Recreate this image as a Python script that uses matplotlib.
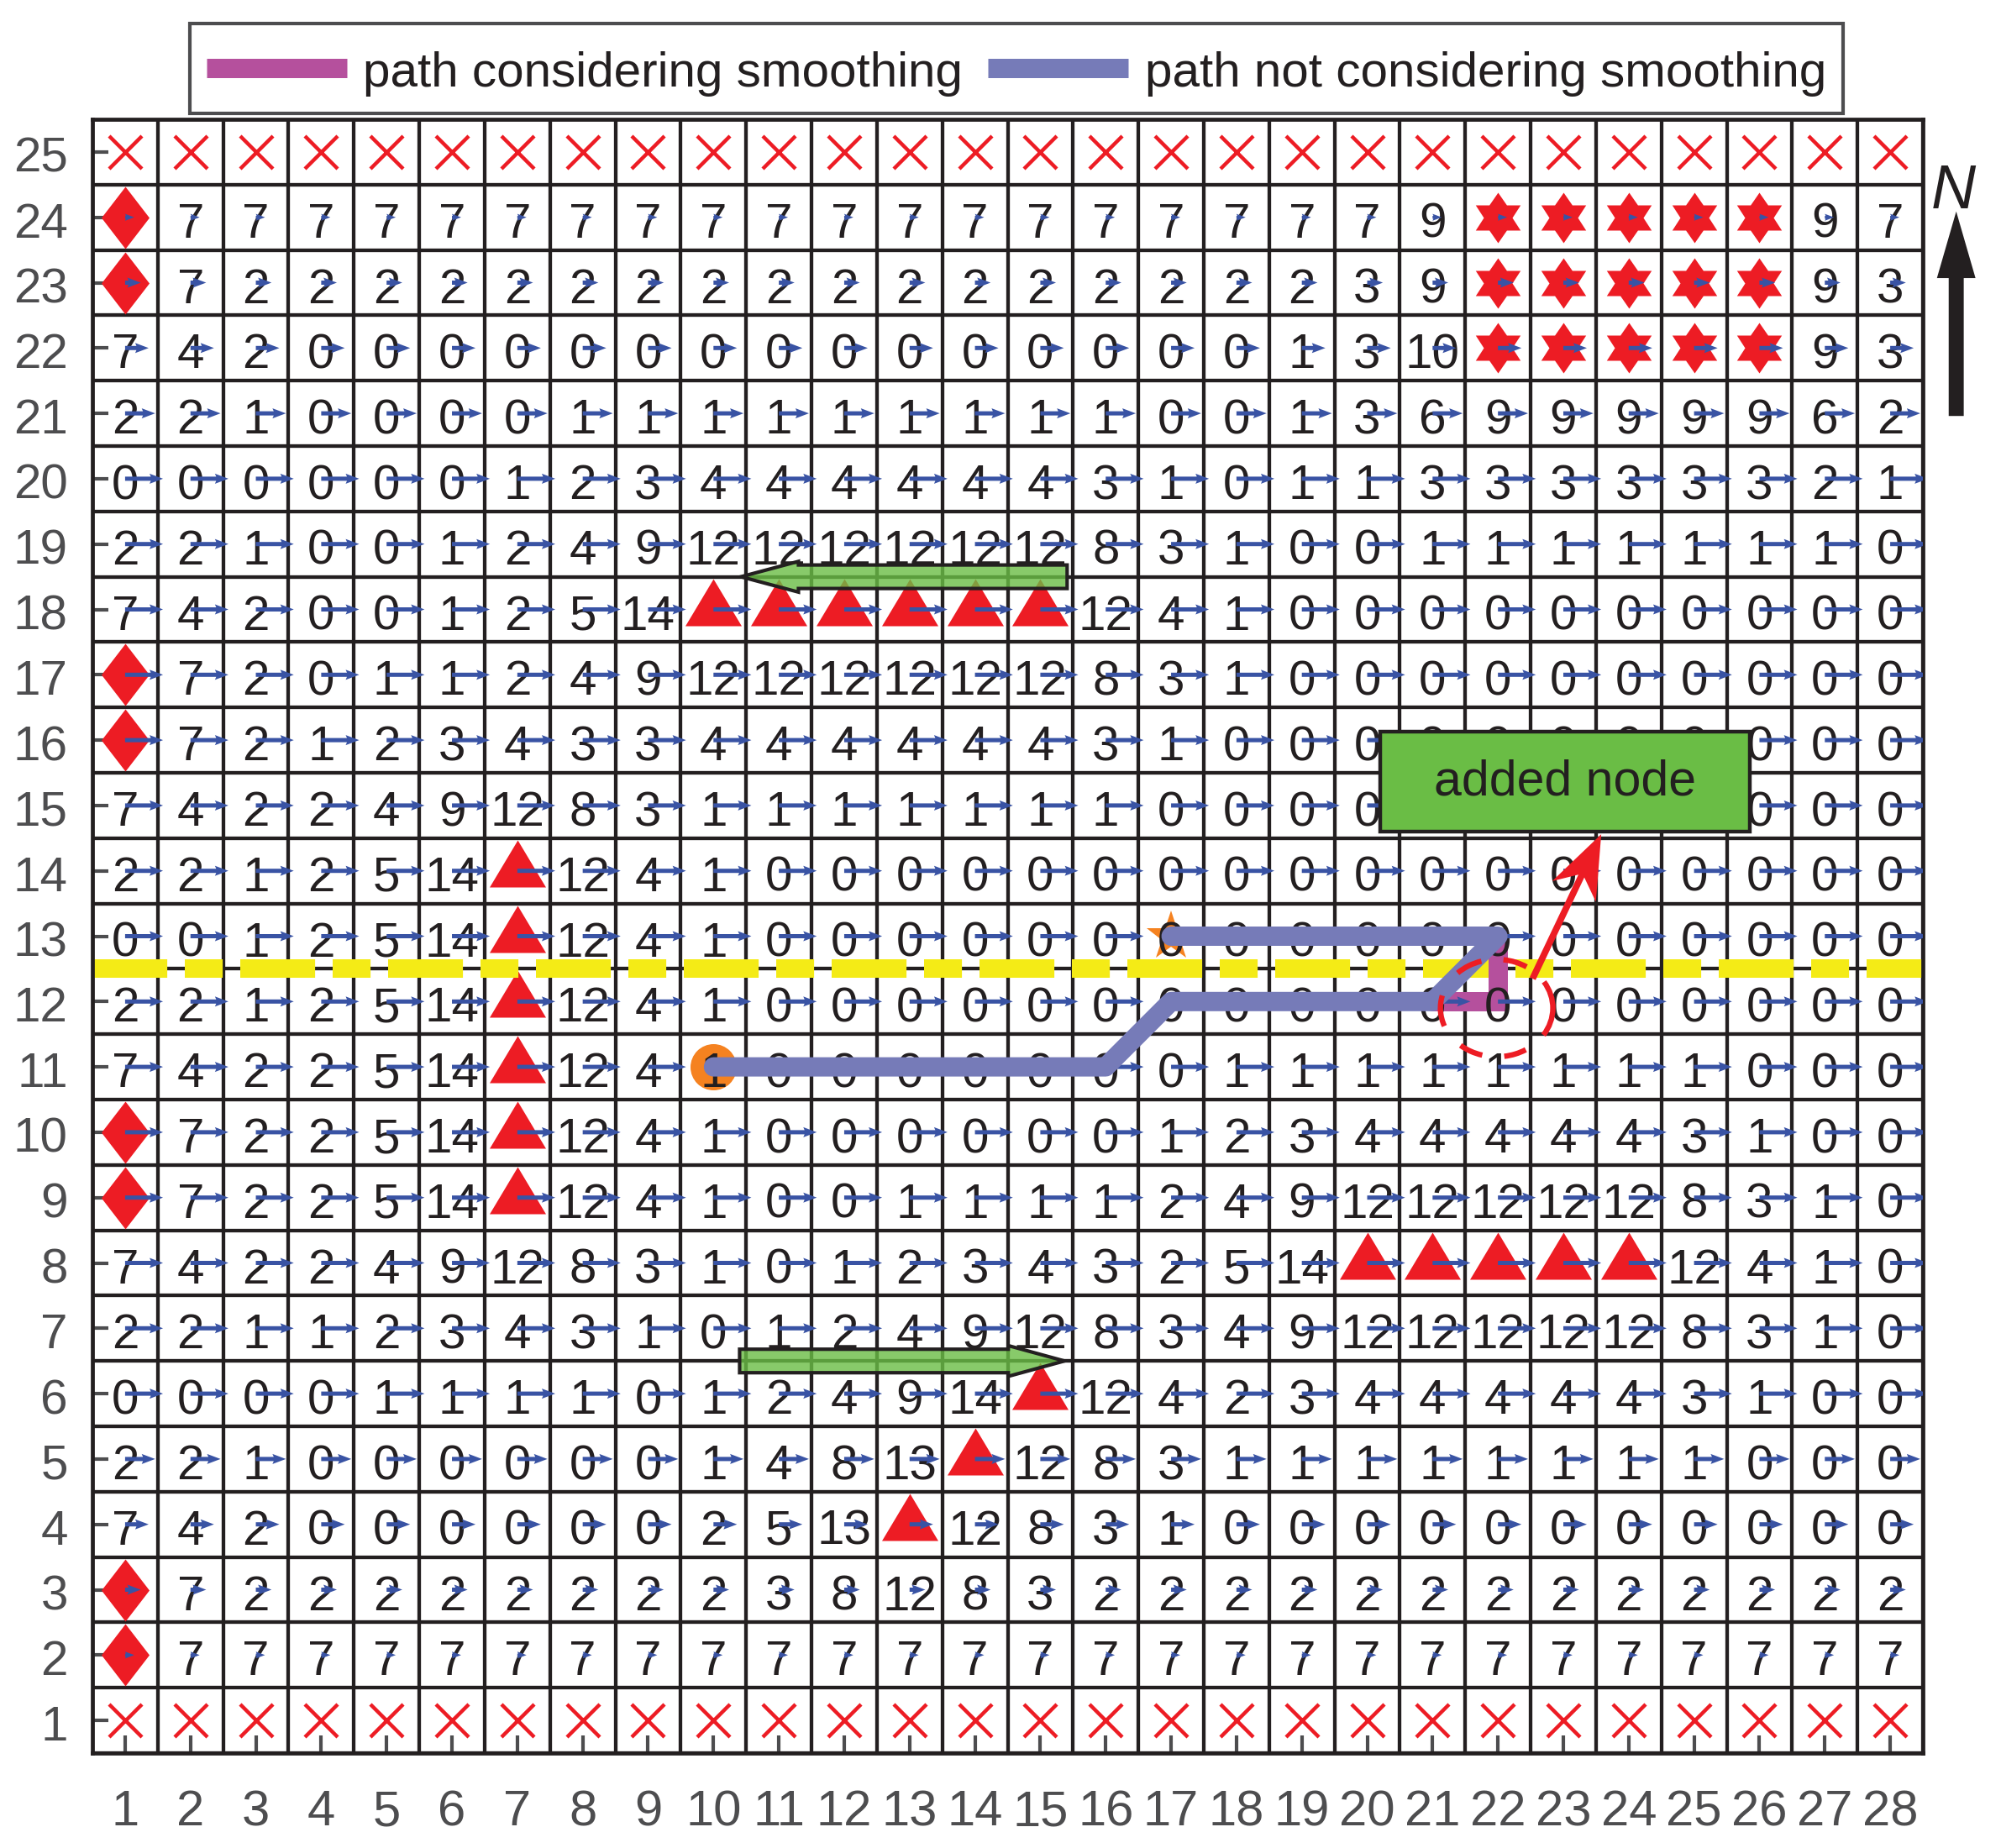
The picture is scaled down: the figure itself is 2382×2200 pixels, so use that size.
import numpy as np
import matplotlib
matplotlib.use("Agg")
import matplotlib.pyplot as plt
from matplotlib.lines import Line2D
from matplotlib.patches import Arc, FancyArrow, Rectangle
from matplotlib.transforms import ScaledTranslation

plt.rcParams['font.family'] = ['Liberation Sans', 'DejaVu Sans']

# cell values, D diamond, T triangle, S star, X cross
row_25 = ['X'] * 28
row_24 = ['D', 7, 7, 7, 7, 7, 7, 7, 7, 7, 7, 7, 7, 7, 7, 7, 7, 7, 7, 7, 9, 'S', 'S', 'S', 'S', 'S', 9, 7]
row_23 = ['D', 7, 2, 2, 2, 2, 2, 2, 2, 2, 2, 2, 2, 2, 2, 2, 2, 2, 2, 3, 9, 'S', 'S', 'S', 'S', 'S', 9, 3]
row_22 = [7, 4, 2, 0, 0, 0, 0, 0, 0, 0, 0, 0, 0, 0, 0, 0, 0, 0, 1, 3, 10, 'S', 'S', 'S', 'S', 'S', 9, 3]
row_21 = [2, 2, 1, 0, 0, 0, 0, 1, 1, 1, 1, 1, 1, 1, 1, 1, 0, 0, 1, 3, 6, 9, 9, 9, 9, 9, 6, 2]
row_20 = [0, 0, 0, 0, 0, 0, 1, 2, 3, 4, 4, 4, 4, 4, 4, 3, 1, 0, 1, 1, 3, 3, 3, 3, 3, 3, 2, 1]
row_19 = [2, 2, 1, 0, 0, 1, 2, 4, 9, 12, 12, 12, 12, 12, 12, 8, 3, 1, 0, 0, 1, 1, 1, 1, 1, 1, 1, 0]
row_18 = [7, 4, 2, 0, 0, 1, 2, 5, 14, 'T', 'T', 'T', 'T', 'T', 'T', 12, 4, 1, 0, 0, 0, 0, 0, 0, 0, 0, 0, 0]
row_17 = ['D', 7, 2, 0, 1, 1, 2, 4, 9, 12, 12, 12, 12, 12, 12, 8, 3, 1, 0, 0, 0, 0, 0, 0, 0, 0, 0, 0]
row_16 = ['D', 7, 2, 1, 2, 3, 4, 3, 3, 4, 4, 4, 4, 4, 4, 3, 1, 0, 0, 0, 0, 0, 0, 0, 0, 0, 0, 0]
row_15 = [7, 4, 2, 2, 4, 9, 12, 8, 3, 1, 1, 1, 1, 1, 1, 1, 0, 0, 0, 0, 0, 0, 0, 0, 0, 0, 0, 0]
row_14 = [2, 2, 1, 2, 5, 14, 'T', 12, 4, 1, 0, 0, 0, 0, 0, 0, 0, 0, 0, 0, 0, 0, 0, 0, 0, 0, 0, 0]
row_13 = [0, 0, 1, 2, 5, 14, 'T', 12, 4, 1, 0, 0, 0, 0, 0, 0, 0, 0, 0, 0, 0, 0, 0, 0, 0, 0, 0, 0]
row_12 = [2, 2, 1, 2, 5, 14, 'T', 12, 4, 1, 0, 0, 0, 0, 0, 0, 0, 0, 0, 0, 0, 0, 0, 0, 0, 0, 0, 0]
row_11 = [7, 4, 2, 2, 5, 14, 'T', 12, 4, 1, 0, 0, 0, 0, 0, 0, 0, 1, 1, 1, 1, 1, 1, 1, 1, 0, 0, 0]
row_10 = ['D', 7, 2, 2, 5, 14, 'T', 12, 4, 1, 0, 0, 0, 0, 0, 0, 1, 2, 3, 4, 4, 4, 4, 4, 3, 1, 0, 0]
row_9 = ['D', 7, 2, 2, 5, 14, 'T', 12, 4, 1, 0, 0, 1, 1, 1, 1, 2, 4, 9, 12, 12, 12, 12, 12, 8, 3, 1, 0]
row_8 = [7, 4, 2, 2, 4, 9, 12, 8, 3, 1, 0, 1, 2, 3, 4, 3, 2, 5, 14, 'T', 'T', 'T', 'T', 'T', 12, 4, 1, 0]
row_7 = [2, 2, 1, 1, 2, 3, 4, 3, 1, 0, 1, 2, 4, 9, 12, 8, 3, 4, 9, 12, 12, 12, 12, 12, 8, 3, 1, 0]
row_6 = [0, 0, 0, 0, 1, 1, 1, 1, 0, 1, 2, 4, 9, 14, 'T', 12, 4, 2, 3, 4, 4, 4, 4, 4, 3, 1, 0, 0]
row_5 = [2, 2, 1, 0, 0, 0, 0, 0, 0, 1, 4, 8, 13, 'T', 12, 8, 3, 1, 1, 1, 1, 1, 1, 1, 1, 0, 0, 0]
row_4 = [7, 4, 2, 0, 0, 0, 0, 0, 0, 2, 5, 13, 'T', 12, 8, 3, 1, 0, 0, 0, 0, 0, 0, 0, 0, 0, 0, 0]
row_3 = ['D', 7, 2, 2, 2, 2, 2, 2, 2, 2, 3, 8, 12, 8, 3, 2, 2, 2, 2, 2, 2, 2, 2, 2, 2, 2, 2, 2]
row_2 = ['D', 7, 7, 7, 7, 7, 7, 7, 7, 7, 7, 7, 7, 7, 7, 7, 7, 7, 7, 7, 7, 7, 7, 7, 7, 7, 7, 7]
row_1 = ['X'] * 28
rows = [row_1, row_2, row_3, row_4, row_5, row_6, row_7, row_8, row_9, row_10, row_11, row_12, row_13,
        row_14, row_15, row_16, row_17, row_18, row_19, row_20, row_21, row_22, row_23, row_24, row_25]

# arrow length in each row, in cell widths, row 1 first
flow_speed = [0, 0.14, 0.24, 0.36, 0.46, 0.58, 0.58, 0.58, 0.58, 0.58, 0.58, 0.58, 0.58,
              0.58, 0.58, 0.58, 0.58, 0.58, 0.58, 0.58, 0.46, 0.36, 0.24, 0.14, 0]

smooth_x = [21, 22, 22]
smooth_y = [12, 12, 13]
plain_x = [10, 16, 17, 21, 22, 17]
plain_y = [11, 11, 12, 12, 13, 13]

RED = '#ed1c24'
BLUE = '#3953a4'
DARK = '#231f20'
GRAY = '#4d4d4f'
GREEN = '#6abd45'
ORANGE = '#f58220'
PX = 0.72  # points per pixel at dpi 100

fig = plt.figure(figsize=(23.82, 22), dpi=100)
ax = fig.add_axes([110 / 2382, 1 - 2087 / 2200, 2179 / 2382, 1945 / 2200])
ax.set_xlim(0.5, 28.5)
ax.set_ylim(0.5, 25.5)

ax.set_xticks(range(1, 29))
ax.set_yticks(range(1, 26))
ax.set_xticks(np.arange(0.5, 29), minor=True)
ax.set_yticks(np.arange(0.5, 26), minor=True)
ax.set_axisbelow(True)
ax.grid(which='minor', color=DARK, lw=3.1)
ax.tick_params(which='minor', length=0)
ax.tick_params(axis='x', which='major', direction='in', length=15, width=3, color=GRAY,
               labelsize=43, labelcolor=GRAY, pad=31)
ax.tick_params(axis='y', which='major', direction='in', length=14, width=3, color=GRAY,
               labelsize=42, labelcolor=GRAY, pad=21)
for s in ax.spines.values():
    s.set_linewidth(3.4)
    s.set_color(DARK)
# y labels sit a little under the tick
for lab in ax.get_yticklabels():
    lab.set_transform(lab.get_transform() + ScaledTranslation(0, -0.03, fig.dpi_scale_trans))

diamond = [(-28.5, 0), (0, 37), (28.5, 0), (0, -37)]
triangle = [(-33.5, -19), (33.5, -19), (0, 37)]
star = [(0, 30), (10.4, 15), (26.7, 15), (17, 0), (26.7, -15), (10.4, -15),
        (0, -30), (-10.4, -15), (-26.7, -15), (-17, 0), (-26.7, 15), (-10.4, 15)]

for j, row in enumerate(rows):
    y = j + 1
    for i, v in enumerate(row):
        x = i + 1
        if v == 'X':
            ax.plot(x, y, marker='x', ms=39 * PX, mew=3.2, color=RED, ls='none', zorder=2)
        elif v == 'D':
            ax.plot(x, y, marker=diamond, ms=74 * PX, mew=0, color=RED, ls='none', zorder=2)
        elif v == 'T':
            ax.plot(x, y, marker=triangle, ms=74 * PX, mew=0, color=RED, ls='none', zorder=2)
        elif v == 'S':
            ax.plot(x, y, marker=star, ms=60 * PX, mew=0, color=RED, ls='none', zorder=2)
        else:
            ax.text(x, y - 0.31, str(v), fontsize=42, color=DARK, ha='center', va='baseline', zorder=3)

# start and end of the route
ax.plot(10, 11, marker='o', ms=55 * PX, mew=0, color=ORANGE, zorder=2)
ax.plot(17, 13, marker='*', ms=62 * PX, mew=0, color=ORANGE, zorder=2)

# flow field
xx, yy = np.meshgrid(range(1, 29), range(1, 26))
uu = np.array(flow_speed)[:, None] * np.ones(28)
keep = uu > 0
ax.quiver(xx[keep], yy[keep], uu[keep], np.zeros_like(uu[keep]), angles='xy', scale_units='xy', scale=1,
          units='dots', width=5, headwidth=2.4, headlength=3.2, headaxislength=2.9,
          color=BLUE, zorder=4)

# yellow dashed line between rows 12 and 13
ax.plot([0.5, 28.5], [12.5, 12.5], color='#f4eb16', lw=22 * PX, solid_capstyle='butt', dash_capstyle='butt',
        ls=(0, (4.05, 0.95, 2.05, 0.95)), zorder=2.2)

ax.plot(smooth_x, smooth_y, color='#b5509d', lw=23 * PX, solid_capstyle='round', solid_joinstyle='miter', zorder=2.5)
ax.plot(plain_x, plain_y, color='#767bb8', lw=23 * PX, solid_capstyle='round', solid_joinstyle='round', zorder=5)

# green wind arrows
green_face = matplotlib.colors.to_rgba(GREEN, 0.8)
ax.add_patch(FancyArrow(15.41, 19 - 0.5, -4.99, 0, width=0.36, head_width=0.47, head_length=0.88,
                        length_includes_head=True, fc=green_face, ec=DARK, lw=3, zorder=5))
ax.add_patch(FancyArrow(10.4, 7 - 0.5, 4.97, 0, width=0.36, head_width=0.47, head_length=0.86,
                        length_includes_head=True, fc=green_face, ec=DARK, lw=3, zorder=5))

# dashed red ring around the added node
for t1, t2 in [(54, 82), (108, 138), (167, 199), (226, 253), (279, 305), (-30, 29)]:
    ax.add_patch(Arc((21.98, 11.9), 1.72, 1.49, theta1=t1, theta2=t2, color=RED, lw=4.6, zorder=6))
ax.add_patch(FancyArrow(22.53, 12.35, 1.05, 2.21, width=0.1, head_width=0.74, head_length=0.97, overhang=0.27,
                        length_includes_head=True, fc=RED, ec=RED, lw=0, zorder=6))

# label box
ax.add_patch(Rectangle((20.2, 14.6), 5.65, 1.53, fc=GREEN, ec=DARK, lw=3.2, zorder=7))
ax.text(23.03, 15.16, 'added node', fontsize=42.5, color=DARK, ha='center', va='baseline', zorder=8)

# north arrow
ax.text(28.97, 24.14, 'N', fontsize=53, style='italic', color=DARK, ha='center', va='baseline', clip_on=False)
ax.add_patch(FancyArrow(29.01, 20.96, 0, 3.13, width=0.23, head_width=0.59, head_length=1.02,
                        length_includes_head=True, fc=DARK, ec=DARK, lw=0, clip_on=False))

# legend frame is drawn by hand so it can be sized to the reference
fig.add_artist(Rectangle((226 / 2382, 1 - 135 / 2200), 1968 / 2382, 107 / 2200, transform=fig.transFigure,
                         fc='white', ec=GRAY, lw=3))
handles = [Line2D([], [], color='#b5509d', lw=23 * PX, solid_capstyle='butt'),
           Line2D([], [], color='#767bb8', lw=23 * PX, solid_capstyle='butt')]
leg = fig.legend(handles, ['path considering smoothing', 'path not considering smoothing'],
                 loc='center', bbox_to_anchor=(1210 / 2382, 1 - 86 / 2200), bbox_transform=fig.transFigure,
                 ncol=2, fontsize=42, frameon=False, labelcolor=DARK,
                 handlelength=2.86, handletextpad=0.33, columnspacing=0.52, borderpad=0.38, borderaxespad=0)
for t in leg.get_texts():
    t.set_y(-2)

fig.savefig('out.png', dpi=100)
